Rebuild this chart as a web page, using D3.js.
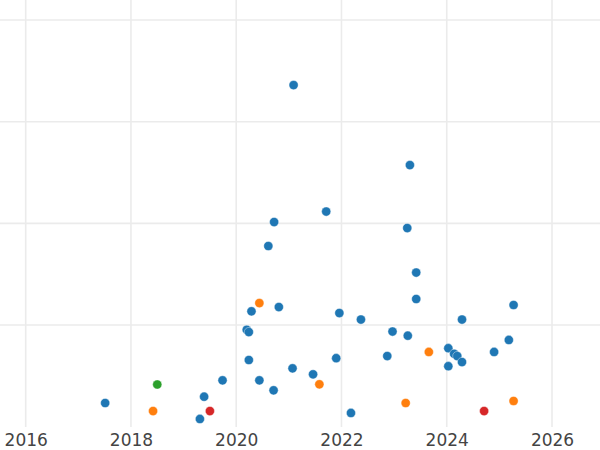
<!DOCTYPE html>
<html>
<head>
<meta charset="utf-8">
<script src="https://cdn.jsdelivr.net/npm/d3@7"></script>
<style>
  html, body { margin: 0; padding: 0; background: #ffffff; }
  svg { display: block; }
</style>
</head>
<body>
<svg id="chart" width="600" height="450"></svg>
<script>
// ---- data ----
const xTicks = [2016, 2018, 2020, 2022, 2024, 2026];
const xTickLabels = ["2016", "2018", "2020", "2022", "2024", "2026"];
const yTicks = [100, 200, 300, 400];

const seriesNames = ["blue", "orange", "green", "red"];
const seriesColors = ["#1f77b4", "#ff7f0e", "#2ca02c", "#d62728"];

const blueYears = [2021.09, 2023.30, 2020.72, 2021.71, 2020.61, 2023.25, 2023.42, 2023.42, 2025.27, 2021.96,
                   2022.37, 2024.29, 2022.97, 2023.26, 2024.03, 2024.14, 2024.20, 2024.29, 2024.03, 2024.90,
                   2025.18, 2022.87, 2021.90, 2022.18, 2021.46, 2020.29, 2020.81, 2020.20, 2020.24, 2020.24,
                   2021.07, 2019.74, 2020.44, 2020.71, 2019.39, 2019.31, 2017.51];
const blueValues = [336.0, 257.3, 201.3, 211.6, 177.7, 195.4, 151.6, 125.6, 119.7, 111.8,
                    105.4, 105.4, 93.6, 89.5, 77.2, 71.7, 69.5, 63.6, 59.5, 73.5,
                    85.3, 69.5, 67.4, 13.5, 51.5, 113.5, 117.7, 95.3, 93.1, 65.6,
                    57.4, 45.6, 45.6, 35.8, 29.5, 7.6, 23.3];

const orangeYears = [2020.44, 2021.58, 2018.42, 2023.66, 2023.22, 2025.27];
const orangeValues = [121.6, 41.7, 15.4, 73.5, 23.3, 25.3];

const greenYears = [2018.50];
const greenValues = [41.5];

const redYears = [2019.50, 2024.71];
const redValues = [15.4, 15.4];

// ---- build ----
const seriesYears = [blueYears, orangeYears, greenYears, redYears];
const seriesValues = [blueValues, orangeValues, greenValues, redValues];
const points = [];
seriesNames.forEach((name, i) => {
  seriesYears[i].forEach((yr, j) => {
    points.push({ series: name, color: seriesColors[i], year: yr, value: seriesValues[i][j] });
  });
});

const W = 600, H = 450;
const plotTop = 0, plotBottom = 427, plotLeft = 0, plotRight = 600;

const x = d3.scaleLinear().domain([2016, 2026]).range([25.7, 552]);
const y = d3.scaleLinear().domain([0, 400]).range([426.7, 20]);

const svg = d3.select("#chart");
svg.append("rect").attr("width", W).attr("height", H).attr("fill", "#ffffff");

const grid = svg.append("g").attr("class", "grid");
grid.selectAll("line.v").data(xTicks).join("line")
  .attr("class", "v")
  .attr("x1", d => x(d)).attr("x2", d => x(d))
  .attr("y1", plotTop).attr("y2", plotBottom)
  .attr("stroke", "#ebebeb").attr("stroke-width", 1.6);
grid.selectAll("line.h").data(yTicks).join("line")
  .attr("class", "h")
  .attr("x1", plotLeft).attr("x2", plotRight)
  .attr("y1", d => y(d)).attr("y2", d => y(d))
  .attr("stroke", "#ebebeb").attr("stroke-width", 1.6);

// x axis labels via d3 axis
const xAxis = d3.axisBottom(x)
  .tickValues(xTicks)
  .tickFormat((d, i) => xTickLabels[i])
  .tickSize(0)
  .tickPadding(0);
const axisG = svg.append("g")
  .attr("transform", `translate(0, ${plotBottom})`)
  .call(xAxis);
axisG.select(".domain").remove();
axisG.selectAll("text")
  .attr("dy", null)
  .attr("y", 19)
  .attr("fill", "#444444")
  .style("font-family", "'DejaVu Sans', sans-serif")
  .style("font-size", "17px");

// points
svg.append("g").selectAll("circle").data(points).join("circle")
  .attr("cx", d => x(d.year))
  .attr("cy", d => y(d.value))
  .attr("r", 4.6)
  .attr("fill", d => d.color)
  .attr("stroke", "#ffffff")
  .attr("stroke-width", 0.4);
</script>
</body>
</html>
